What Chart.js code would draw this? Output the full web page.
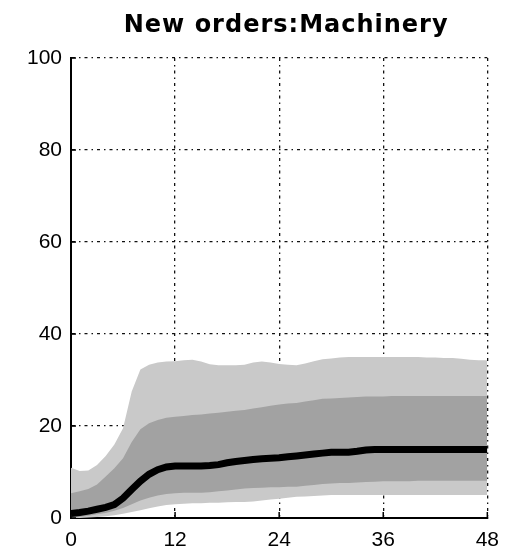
<!DOCTYPE html>
<html>
<head>
<meta charset="utf-8">
<script src="https://cdn.jsdelivr.net/npm/chart.js@4"></script>
<style>
  html, body { margin: 0; padding: 0; background: #fff; }
  #chart { display: block; }
</style>
</head>
<body>
<canvas id="chart" width="509" height="554"></canvas>
<script>
// months after shock, 0..48
const months = Array.from({length: 49}, (_, i) => i);

// median response
const median = [1.0, 1.2, 1.5, 1.9, 2.3, 2.9, 4.3, 6.2, 8.0, 9.5, 10.5, 11.1, 11.3, 11.3, 11.3, 11.3, 11.4,
    11.6, 12.0, 12.3, 12.5, 12.7, 12.9, 13.0, 13.1, 13.3, 13.5, 13.7, 13.9, 14.1, 14.3, 14.3, 14.3, 14.5,
    14.8, 14.9, 14.9, 14.9, 14.9, 14.9, 14.9, 14.9, 14.9, 14.9, 14.9, 14.9, 14.9, 14.9, 14.9];

// outer band (light grey)
const outerUpper = [10.9, 10.2, 10.3, 11.5, 13.5, 16.0, 19.5, 27.5, 32.3, 33.3, 33.8, 34.0, 34.1, 34.3,
    34.4, 34.0, 33.4, 33.2, 33.2, 33.2, 33.3, 33.8, 34.0, 33.8, 33.5, 33.3, 33.2, 33.6, 34.1, 34.5, 34.7,
    34.9, 35.0, 35.0, 35.0, 35.0, 35.0, 35.0, 35.0, 35.0, 35.0, 34.9, 34.9, 34.8, 34.8, 34.6, 34.4, 34.3, 34.3];
const outerLower = [0, 0, 0.1, 0.2, 0.4, 0.6, 0.9, 1.3, 1.7, 2.1, 2.5, 2.8, 3.0, 3.1, 3.2, 3.2, 3.3,
    3.3, 3.4, 3.5, 3.5, 3.6, 3.8, 4.0, 4.2, 4.4, 4.6, 4.7, 4.8, 4.9, 5.0, 5.0, 5.0, 5.0, 5.0, 5.0, 5.0,
    5.0, 5.0, 5.0, 5.0, 5.0, 5.0, 5.0, 5.0, 5.0, 5.0, 5.0, 5.0];

// inner band (dark grey)
const innerUpper = [5.4, 5.8, 6.3, 7.3, 9.0, 10.8, 13.0, 16.5, 19.3, 20.6, 21.3, 21.8, 22.0, 22.2, 22.4,
    22.5, 22.7, 22.9, 23.1, 23.3, 23.5, 23.8, 24.1, 24.4, 24.7, 24.9, 25.0, 25.3, 25.6, 25.9, 26.0, 26.1,
    26.2, 26.3, 26.4, 26.4, 26.4, 26.5, 26.5, 26.5, 26.5, 26.5, 26.5, 26.5, 26.5, 26.5, 26.5, 26.5, 26.5];
const innerLower = [0, 0.2, 0.5, 0.8, 1.1, 1.6, 2.2, 3.0, 3.8, 4.4, 4.9, 5.2, 5.4, 5.5, 5.5, 5.5, 5.6,
    5.8, 6.0, 6.2, 6.4, 6.5, 6.6, 6.7, 6.7, 6.8, 6.8, 7.0, 7.2, 7.4, 7.5, 7.6, 7.6, 7.7, 7.8, 7.9, 8.0,
    8.0, 8.0, 8.0, 8.1, 8.1, 8.1, 8.1, 8.1, 8.1, 8.1, 8.1, 8.1];

const xTicks = [0, 12, 24, 36, 48];
const yTicks = [0, 20, 40, 60, 80, 100];
const chartTitle = 'New orders:Machinery';

const tickFont = { family: 'Liberation Sans, Arial, sans-serif', size: 21 };

function pts(vals) {
    return months.map((m, i) => ({x: m, y: vals[i]}));
}

function band(vals, fill, color, order) {
    return {
        data: pts(vals),
        fill: fill,
        backgroundColor: color,
        borderWidth: 0,
        pointRadius: 0,
        tension: 0,
        order: order
    };
}

// title centred over the plot box, as in the original figure
const plotTitle = {
    id: 'plotTitle',
    afterDraw(chart) {
        const ctx = chart.ctx;
        const area = chart.chartArea;
        ctx.save();
        ctx.fillStyle = '#000';
        ctx.font = 'bold 24px "DejaVu Sans", sans-serif';
        ctx.letterSpacing = '1px';
        ctx.textAlign = 'center';
        ctx.textBaseline = 'alphabetic';
        ctx.fillText(chartTitle, (area.left + area.right) / 2 + 7, 32);
        ctx.restore();
    }
};

// MATLAB style inward tick marks
const inwardTicks = {
    id: 'inwardTicks',
    afterDatasetsDraw(chart) {
        const ctx = chart.ctx;
        const {left, bottom} = chart.chartArea;
        ctx.save();
        ctx.strokeStyle = '#000';
        ctx.lineWidth = 1.5;
        xTicks.forEach(v => {
            const px = chart.scales.x.getPixelForValue(v);
            ctx.beginPath();
            ctx.moveTo(px, bottom);
            ctx.lineTo(px, bottom - 6);
            ctx.stroke();
        });
        yTicks.forEach(v => {
            const py = chart.scales.y.getPixelForValue(v);
            ctx.beginPath();
            ctx.moveTo(left, py);
            ctx.lineTo(left + 5, py);
            ctx.stroke();
        });
        ctx.restore();
    }
};

new Chart(document.getElementById('chart'), {
    type: 'line',
    data: {
        datasets: [
            band(outerUpper, '+1', '#c9c9c9', 3),
            band(outerLower, false, '#c9c9c9', 3),
            band(innerUpper, '+1', '#a2a2a2', 2),
            band(innerLower, false, '#a2a2a2', 2),
            {
                data: pts(median),
                fill: false,
                borderColor: '#000',
                borderWidth: 7,
                pointRadius: 0,
                tension: 0,
                order: 0
            }
        ]
    },
    options: {
        responsive: false,
        animation: false,
        devicePixelRatio: 1,
        layout: { padding: { left: 0, right: 20, top: 58, bottom: 0 } },
        plugins: {
            legend: { display: false },
            tooltip: { enabled: false },
            title: { display: false }
        },
        scales: {
            x: {
                type: 'linear',
                min: 0,
                max: 48,
                afterBuildTicks: s => { s.ticks = xTicks.map(v => ({value: v})); },
                afterFit: s => { s.height = 36; },
                ticks: { color: '#000', padding: 10, maxRotation: 0, font: tickFont },
                grid: { color: '#111', lineWidth: 1.3, drawTicks: false },
                border: { display: true, color: '#000', width: 2, dash: [3, 4, 1.5, 4] }
            },
            y: {
                min: 0,
                max: 100,
                afterBuildTicks: s => { s.ticks = yTicks.map(v => ({value: v})); },
                afterFit: s => { s.width = 71; },
                ticks: { color: '#000', padding: 9, font: tickFont },
                grid: { color: '#111', lineWidth: 1.3, drawTicks: false },
                border: { display: true, color: '#000', width: 2, dash: [3, 4, 1.5, 4] }
            }
        }
    },
    plugins: [inwardTicks, plotTitle]
});
</script>
</body>
</html>
